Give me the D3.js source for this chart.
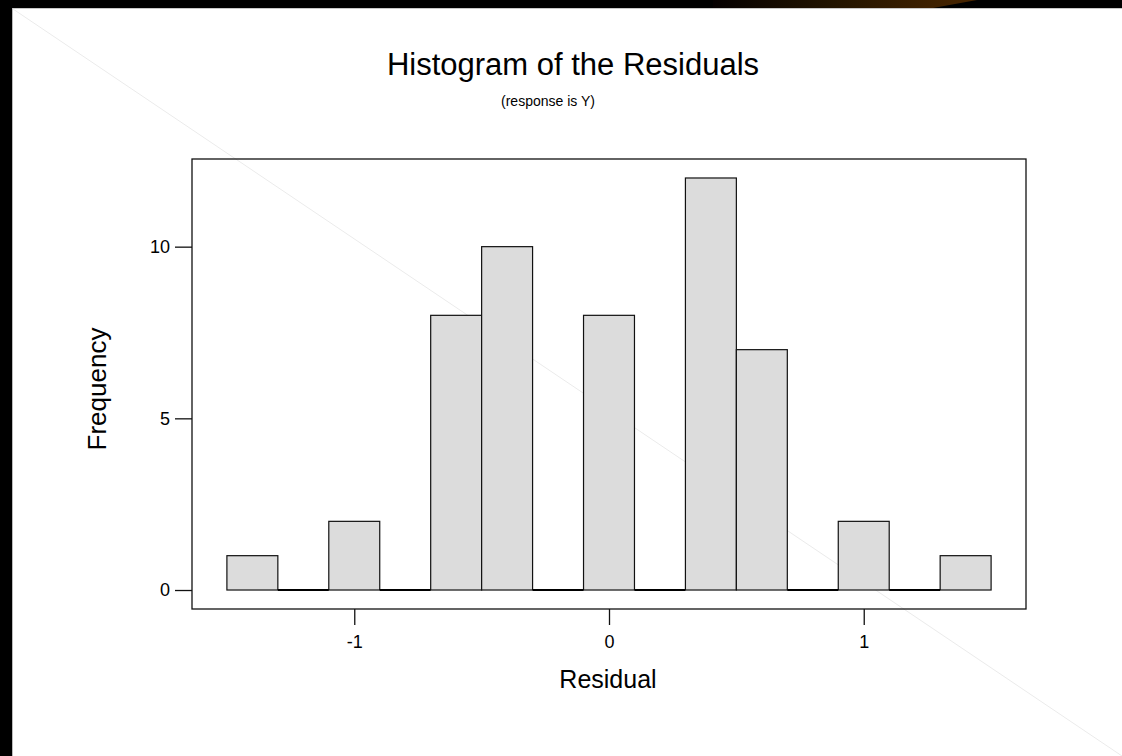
<!DOCTYPE html>
<html>
<head>
<meta charset="utf-8">
<script src="https://cdn.jsdelivr.net/npm/d3@7"></script>
<style>
  html, body { margin: 0; padding: 0; background: #fff; }
  svg { display: block; font-family: "Liberation Sans", Arial, sans-serif; }
</style>
</head>
<body>
<svg id="chart" width="1122" height="756"></svg>
<script>
// ---- data ----
const binLow  = [-1.5, -1.3, -1.1, -0.9, -0.7, -0.5, -0.3, -0.1, 0.1, 0.3, 0.5, 0.7, 0.9, 1.1, 1.3];
const binHigh = [-1.3, -1.1, -0.9, -0.7, -0.5, -0.3, -0.1, 0.1, 0.3, 0.5, 0.7, 0.9, 1.1, 1.3, 1.5];
const counts  = [1, 0, 2, 0, 8, 10, 0, 8, 0, 12, 7, 0, 2, 0, 1];
const xTicks = [-1, 0, 1];
const yTicks = [0, 5, 10];
const titleText = "Histogram of the Residuals";
const subtitleText = "(response is Y)";
const xLabel = "Residual";
const yLabel = "Frequency";

const W = 1122, H = 756;
const svg = d3.select("#chart");

// slide background pieces
const defs = svg.append("defs");
const grad = defs.append("linearGradient").attr("id", "topGrad").attr("x1", "0%").attr("x2", "100%");
grad.append("stop").attr("offset", "0%").attr("stop-color", "#050000");
grad.append("stop").attr("offset", "45%").attr("stop-color", "#221400");
grad.append("stop").attr("offset", "100%").attr("stop-color", "#4a2600");

svg.append("rect").attr("x", 0).attr("y", 0).attr("width", W).attr("height", 8).attr("fill", "#000");
svg.append("path").attr("d", "M713,0 L977,0 L933,8 L713,8 Z").attr("fill", "url(#topGrad)");
svg.append("rect").attr("x", 0).attr("y", 0).attr("width", 12).attr("height", H).attr("fill", "#000");
svg.append("line").attr("x1", 12).attr("x2", W).attr("y1", 8.5).attr("y2", 8.5).attr("stroke", "#c8c8c8").attr("stroke-width", 1);
svg.append("line").attr("x1", 12.5).attr("x2", 12.5).attr("y1", 8).attr("y2", H).attr("stroke", "#bbbbbb").attr("stroke-width", 1);
svg.append("line").attr("x1", 13).attr("y1", 9).attr("x2", W).attr("y2", H)
  .attr("stroke", "#ebebeb").attr("stroke-width", 1);

// ---- scales ----
const pLeft = 192, pRight = 1026, pTop = 159, pBottom = 609;
const x = d3.scaleLinear().domain([-1.637, 1.637]).range([pLeft, pRight]);
const y = d3.scaleLinear().domain([-0.553, 12.553]).range([pBottom, pTop]);

// bars
const bins = binLow.map((lo, i) => ({ lo, hi: binHigh[i], n: counts[i] }));
svg.append("g").selectAll("rect").data(bins.filter(d => d.n > 0)).join("rect")
  .attr("x", d => x(d.lo))
  .attr("y", d => y(d.n))
  .attr("width", d => x(d.hi) - x(d.lo))
  .attr("height", d => y(0) - y(d.n))
  .attr("fill", "#dcdcdc")
  .attr("stroke", "#111")
  .attr("stroke-width", 1.2);
// zero-count bins drawn as baseline segments
svg.append("g").selectAll("line").data(bins.filter(d => d.n === 0)).join("line")
  .attr("x1", d => x(d.lo)).attr("x2", d => x(d.hi))
  .attr("y1", y(0)).attr("y2", y(0))
  .attr("stroke", "#000").attr("stroke-width", 2);

// frame
svg.append("rect").attr("x", pLeft).attr("y", pTop).attr("width", pRight - pLeft).attr("height", pBottom - pTop)
  .attr("fill", "none").attr("stroke", "#111").attr("stroke-width", 1.3);

// axes
const yAxis = d3.axisLeft(y).tickValues(yTicks).tickSize(17).tickPadding(5).tickFormat(d3.format("d"));
const gy = svg.append("g").attr("transform", `translate(${pLeft},0)`).call(yAxis);
gy.select(".domain").remove();
gy.selectAll(".tick line").attr("stroke", "#111").attr("stroke-width", 1.3);
gy.selectAll(".tick text").attr("font-size", 18).attr("fill", "#000").attr("font-family", "Liberation Sans, Arial, sans-serif");

const xAxis = d3.axisBottom(x).tickValues(xTicks).tickSize(16).tickPadding(10).tickFormat(d3.format("d"));
const gx = svg.append("g").attr("transform", `translate(0,${pBottom})`).call(xAxis);
gx.select(".domain").remove();
gx.selectAll(".tick line").attr("stroke", "#111").attr("stroke-width", 1.3);
gx.selectAll(".tick text").attr("font-size", 18).attr("fill", "#000").attr("font-family", "Liberation Sans, Arial, sans-serif")
  .text(d => d < 0 ? "-" + Math.abs(d) : d);

// titles
svg.append("text").attr("x", 573).attr("y", 75).attr("text-anchor", "middle")
  .attr("font-size", 31).attr("fill", "#000").text(titleText);
svg.append("text").attr("x", 548).attr("y", 106).attr("text-anchor", "middle")
  .attr("font-size", 14).attr("fill", "#000").text(subtitleText);
svg.append("text").attr("x", 608).attr("y", 688).attr("text-anchor", "middle")
  .attr("font-size", 25).attr("fill", "#000").text(xLabel);
svg.append("text").attr("transform", "translate(106,389) rotate(-90)").attr("text-anchor", "middle")
  .attr("font-size", 26).attr("fill", "#000").text(yLabel);
</script>
</body>
</html>
